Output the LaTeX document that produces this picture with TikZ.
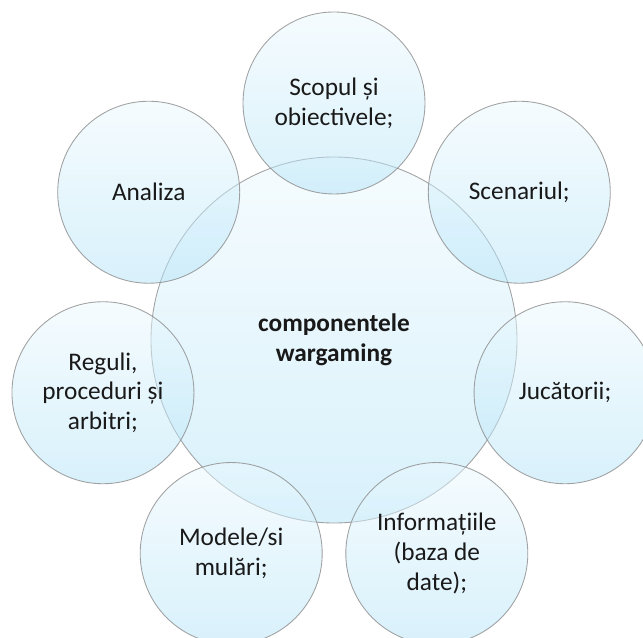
\documentclass[tikz,border=0pt]{standalone}
\usepackage{fontspec}
\setmainfont{Carlito}

\definecolor{bubbletop}{RGB}{236,249,254}
\definecolor{bubblebot}{RGB}{178,227,248}
\definecolor{bubbleline}{RGB}{140,140,140}

\tikzset{
  bubble/.style={circle, draw=bubbleline, line width=.5pt,
    top color=bubbletop, bottom color=bubblebot,
    fill opacity=.5, draw opacity=.8, text opacity=1, text=black!90,
    align=center, inner sep=0pt, font=\fontsize{14.4}{17}\selectfont},
  part/.style={bubble, minimum size=3.64cm},
  hub/.style={bubble, minimum size=7.32cm, font=\fontsize{14.4}{17}\selectfont\bfseries},
}

\begin{document}
\begin{tikzpicture}
\useasboundingbox (-6.68,-5.94) rectangle (6.18,6.80);
\clip (-6.68,-5.94) rectangle (6.18,6.80);

% centre first, so the ring is laid over it
\node[hub] (wg) at (0,0) {componentele\\wargaming};

% seven parts on a ring
\node[part] (scop) at (90:4.74) {Scopul și\\obiectivele;};
\node[part] (scen) at (38.57:4.74) {Scenariul;};
\node[part] (juc) at (-12.86:4.74) {Jucătorii;};
\node[part] (info) at (-64.29:4.74) {Informațiile\\(baza de\\date);};
\node[part] (mod) at (-115.71:4.74) {Modele/si\\mulări;};
\node[part] (reg) at (-167.14:4.74) {Reguli,\\proceduri și\\arbitri;};
\node[part] (an) at (141.43:4.74) {Analiza};

\end{tikzpicture}
\end{document}
